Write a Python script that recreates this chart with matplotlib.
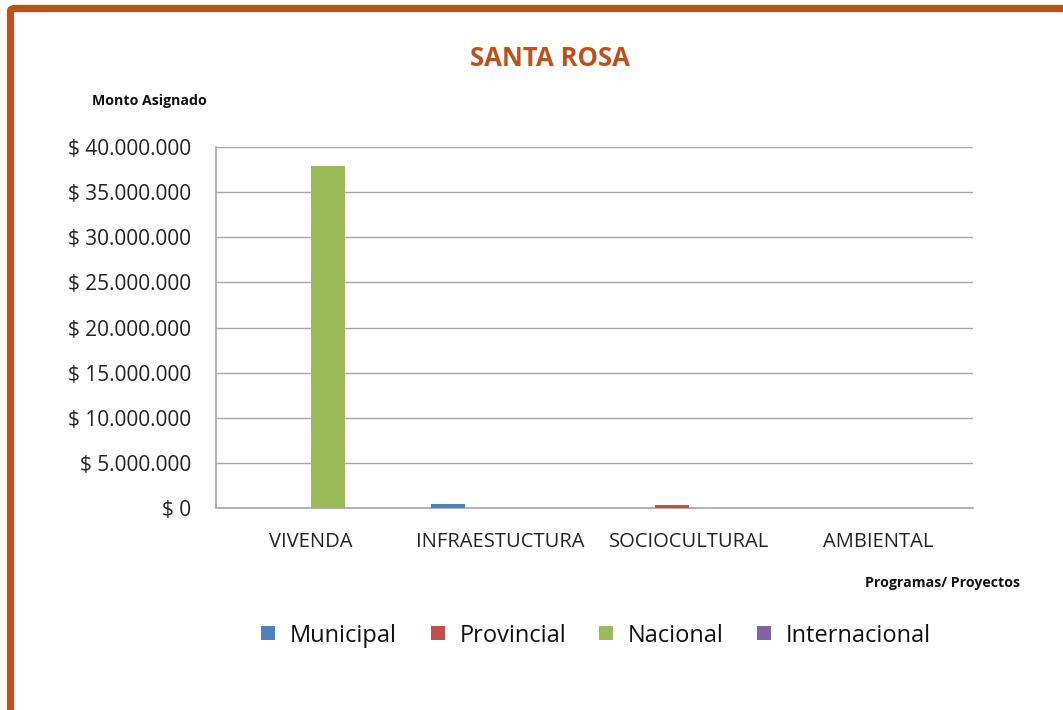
import matplotlib.pyplot as plt
from matplotlib.patches import FancyBboxPatch, Rectangle
import numpy as np

categories = ["VIVENDA", "INFRAESTUCTURA", "SOCIOCULTURAL", "AMBIENTAL"]
series_names = ["Municipal", "Provincial", "Nacional", "Internacional"]
municipal = [0, 450000, 0, 0]
provincial = [0, 0, 300000, 0]
nacional = [37900000, 0, 0, 0]
internacional = [0, 0, 0, 0]
colors = ["#4F81BD", "#C0504D", "#9BBB59", "#8064A2"]
yticks = [0, 5000000, 10000000, 15000000, 20000000, 25000000, 30000000, 35000000, 40000000]

def fmt_money(v):
    return "$ " + f"{int(v):,}".replace(",", ".")

plt.rcParams['font.family'] = ['Open Sans', 'DejaVu Sans']

fig = plt.figure(figsize=(10.63, 7.1), dpi=100)
W, H = 1063, 710

# frame around the chart
frame = FancyBboxPatch((10.5 / W, -0.05), 1.2, (H - 8.5) / H + 0.05,
                       boxstyle="round,pad=0,rounding_size=0.004",
                       transform=fig.transFigure, facecolor="white",
                       edgecolor="#C0501A", linewidth=5.2, zorder=0)
fig.patches.append(frame)

ax = fig.add_axes([216 / W, 1 - 508 / H, (973 - 216) / W, (508 - 147) / H])
ax.set_zorder(2)
ax.set_facecolor("none")

data = [municipal, provincial, nacional, internacional]
n = len(series_names)
x = np.arange(len(categories))
bw = 1 / (n + 1.5)
for i, (name, vals, c) in enumerate(zip(series_names, data, colors)):
    ax.bar(x + (i - (n - 1) / 2) * bw, vals, width=bw, color=c, label=name, zorder=3)

ax.set_xlim(-0.5, len(categories) - 0.5)
ax.set_ylim(0, 40000000)
ax.set_yticks(yticks)
ax.set_yticklabels([fmt_money(v) for v in yticks], fontsize=15, color="#222222")
ax.set_xticks(x)
ax.set_xticklabels(categories, fontsize=14.5, color="#222222")
ax.tick_params(axis="both", length=0)
ax.tick_params(axis="x", pad=17)
ax.tick_params(axis="y", pad=18)
ax.grid(axis="y", color="#A6A6A6", linewidth=1, zorder=0)
for s in ["top", "right"]:
    ax.spines[s].set_visible(False)
for s in ["left", "bottom"]:
    ax.spines[s].set_color("#A6A6A6")
    ax.spines[s].set_linewidth(1.2)

fig.text(550 / W, 1 - 58 / H, "SANTA ROSA", ha="center", va="center",
         fontsize=18.5, fontweight="bold", color="#C0501A", zorder=3)
fig.text(92 / W, 1 - 101 / H, "Monto Asignado", ha="left", va="center",
         fontsize=10.2, fontweight="bold", color="#111111", zorder=3)
fig.text(1020 / W, 1 - 583 / H, "Programas/ Proyectos", ha="right", va="center",
         fontsize=10.2, fontweight="bold", color="#111111", zorder=3)

# legend row: colour square followed by the series name
legend_x = [261, 431, 599, 757]
for lx, name, c in zip(legend_x, series_names, colors):
    fig.patches.append(Rectangle((lx / W, 1 - 640 / H), 14 / W, 14 / H,
                                 transform=fig.transFigure, facecolor=c,
                                 edgecolor="none", zorder=3))
    fig.text((lx + 29) / W, 1 - 633 / H, name, ha="left", va="center_baseline",
             fontsize=17, color="#111111", zorder=3)

fig.savefig("out.png", dpi=100)
